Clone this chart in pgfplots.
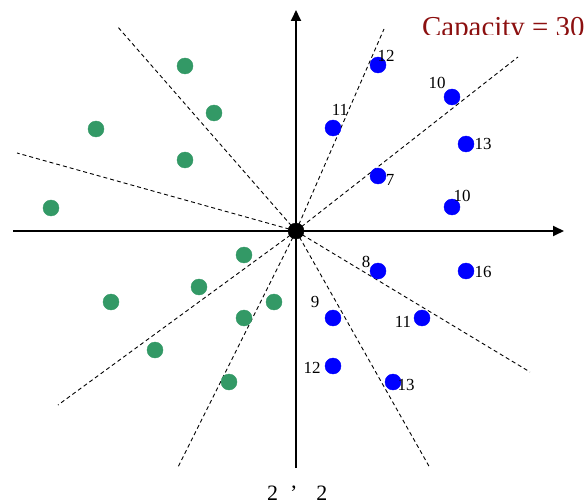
\documentclass[border=0pt]{standalone}
\usepackage{pgfplots}
\pgfplotsset{compat=1.18}
\usepackage{pgfplotstable}
\usetikzlibrary{arrows.meta}
\usepackage{fontspec}
\setmainfont{Liberation Serif}

\definecolor{custblue}{RGB}{0,0,255}
\definecolor{custgreen}{RGB}{51,153,102}
\definecolor{titlered}{RGB}{140,16,16}

% customers on the right half: position, demand, label offset
\pgfplotstableread{
x   y   d   dx  dy
378 65  12  8   9
333 128 11  7   18
452 97  10  -15 14
466 144 13  17  0
378 176 7   12  -4
452 207 10  10  11
378 271 8   -12 9
466 271 16  17  -1
333 318 9   -18 16
422 318 11  -19 -4
333 366 12  -21 -2
393 382 13  13  -3
}\bluecust

% customers on the left half
\pgfplotstableread{
x   y
185 66
214 113
96  129
185 160
51  208
244 255
199 287
111 302
274 302
244 318
155 350
229 382
}\greencust

\begin{document}
\begin{tikzpicture}
\begin{axis}[
  width=586bp, height=504bp, scale only axis,
  xmin=0, xmax=586, ymin=0, ymax=504, y dir=reverse,
  hide axis, clip=false,
  at={(0,0)}, anchor=south west,
]
% customer nodes
\addplot[only marks, mark=*, mark size=8bp, custgreen, mark options={draw=custgreen, fill=custgreen}]
  table[x=x, y=y] {\greencust};
\addplot[only marks, mark=*, mark size=8bp, custblue, mark options={draw=custblue, fill=custblue}]
  table[x=x, y=y] {\bluecust};

% sweep rays from the depot
\pgfplotsset{ray/.style={black, line width=0.9bp, dash pattern=on 4bp off 3bp}}
\addplot[ray] coordinates {(296,231) (384,29)};
\addplot[ray] coordinates {(296,231) (518,57)};
\addplot[ray] coordinates {(296,231) (530,372)};
\addplot[ray] coordinates {(296,231) (430,468)};
\addplot[ray] coordinates {(296,231) (117,26)};
\addplot[ray] coordinates {(296,231) (17,153)};
\addplot[ray] coordinates {(296,231) (58,405)};
\addplot[ray] coordinates {(296,231) (178,467)};

% coordinate axes
\addplot[black, line width=1.8bp, -{Triangle[length=11bp, width=10bp]}]
  coordinates {(13,231) (564,231)};
\addplot[black, line width=1.8bp, -{Triangle[length=11bp, width=10bp]}]
  coordinates {(296,468) (296,10)};

% depot
\addplot[only marks, mark=*, mark size=8bp, black] coordinates {(296,231)};

% demand labels
\addplot[draw=none, mark=none,
  point meta=explicit symbolic,
  visualization depends on={\thisrow{dx} \as \dx},
  visualization depends on={\thisrow{dy} \as \dy},
  nodes near coords,
  every node near coord/.append style={anchor=center, xshift=\dx*1bp, yshift=\dy*1bp,
    inner sep=0pt, text=black, font=\fontsize{17}{17}\selectfont},
] table[x=x, y=y, meta=d] {\bluecust};
\end{axis}

% heading, cut off below its baseline
\begin{scope}
  \clip (0,469bp) rectangle (586bp,504bp);
  \node[anchor=base west, inner sep=0pt, text=titlered, font=\fontsize{29}{29}\selectfont]
    at (422bp,467bp) {Capacity = 30};
\end{scope}

\node[anchor=base west, inner sep=0pt, font=\fontsize{22}{22}\selectfont]
  at (267bp,4bp) {2\hspace{12bp}’\hspace{19bp}2};

\pgfresetboundingbox
\useasboundingbox (0,0) rectangle (586bp,504bp);
\end{tikzpicture}
\end{document}
